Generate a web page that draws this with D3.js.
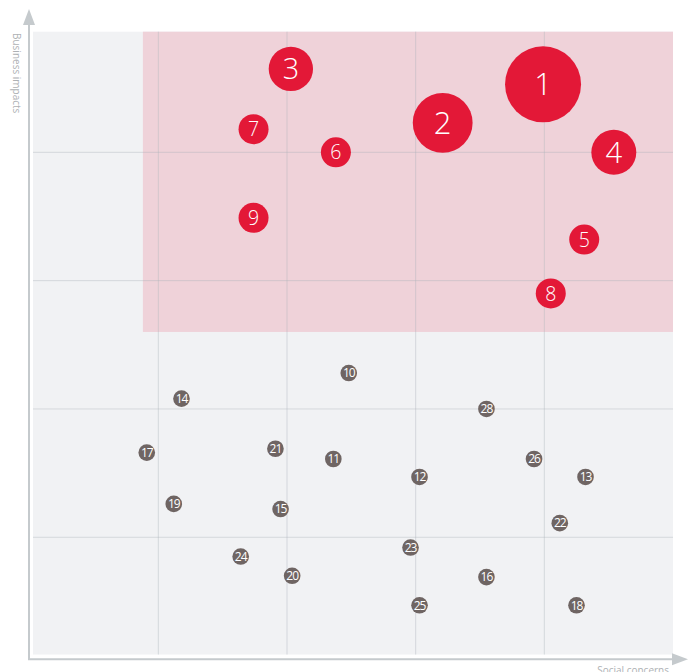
<!DOCTYPE html>
<html lang="en">
<head>
	<meta charset="utf-8">
	<script src="https://cdn.jsdelivr.net/npm/d3@7"></script>
	<style>
	  body { margin: 0; background: #fff; }
	  svg text { font-family: "Open Sans", "Lato", sans-serif; }
	</style>
</head>
<body>
<div id="chart"></div>

<script type="text/javascript">
    "use strict";

    // issue ids, social concerns (x), business impacts (y), weight (bubble size)
    const ids     = [1, 2, 3, 4, 5, 6, 7, 8, 9,
                     10, 11, 12, 13, 14, 15, 16, 17, 18, 19, 20, 21, 22, 23, 24, 25, 26, 28];
    const social  = [3.99, 3.21, 2.03, 4.54, 4.31, 2.38, 1.74, 4.05, 1.74,
                     2.48, 2.36, 3.03, 4.32, 1.18, 1.95, 3.55, 0.91, 4.25, 1.12, 2.04, 1.91, 4.12, 2.96, 1.64, 3.03, 3.92, 3.55];
    const business = [4.53, 4.23, 4.65, 4.0, 3.32, 4.0, 4.18, 2.9, 3.49,
                      2.28, 1.61, 1.47, 1.47, 2.08, 1.22, 0.69, 1.66, 0.47, 1.26, 0.7, 1.69, 1.11, 0.92, 0.85, 0.47, 1.61, 2.0];
    const weight  = [10, 6.2, 3.4, 3.5, 1.56, 1.56, 1.56, 1.56, 1.56,
                     0.48, 0.48, 0.48, 0.48, 0.48, 0.48, 0.48, 0.48, 0.48, 0.48, 0.48, 0.48, 0.48, 0.48, 0.48, 0.48, 0.48, 0.48];
    const material = [true, true, true, true, true, true, true, true, true,
                      false, false, false, false, false, false, false, false, false, false, false, false, false, false, false, false, false, false];

    const gridTicks = [1, 2, 3, 4];
    // highlighted "material" zone, in data units
    const zoneX = [0.88, 5];
    const zoneY = [2.6, 4.94];
    const plotX = [0.026, 5];
    const plotY = [0.086, 4.94];

    const width = 692, height = 672;

    const x = d3.scaleLinear().domain([0, 5]).range([29.67, 673]);
    const y = d3.scaleLinear().domain([0, 5]).range([665.6, 24]);
    const r = d3.scaleSqrt().domain([0, 10]).range([0, 38]);

    const svg = d3.select("#chart").append("svg")
      .attr("width", width).attr("height", height);

    // plot background
    svg.append("rect")
      .attr("x", x(plotX[0])).attr("y", y(plotY[1]))
      .attr("width", x(plotX[1]) - x(plotX[0]))
      .attr("height", y(plotY[0]) - y(plotY[1]))
      .attr("fill", "#f1f2f4");

    svg.append("rect")
      .attr("x", x(zoneX[0])).attr("y", y(zoneY[1]))
      .attr("width", x(zoneX[1]) - x(zoneX[0]))
      .attr("height", y(zoneY[0]) - y(zoneY[1]))
      .attr("fill", "#efd2d9");

    // grid
    const grid = svg.append("g").attr("stroke", "#a9b2b8").attr("stroke-opacity", 0.4);
    grid.selectAll(".vx").data(gridTicks).join("line")
      .attr("x1", d => x(d)).attr("x2", d => x(d))
      .attr("y1", y(plotY[1])).attr("y2", y(plotY[0]));
    grid.selectAll(".hy").data(gridTicks).join("line")
      .attr("y1", d => y(d)).attr("y2", d => y(d))
      .attr("x1", x(plotX[0])).attr("x2", x(plotX[1]));

    // axes with arrows
    const axisCol = "#c5cacd";
    svg.append("line").attr("x1", 29).attr("x2", 29).attr("y1", 22).attr("y2", 660)
      .attr("stroke", axisCol).attr("stroke-width", 2);
    svg.append("line").attr("x1", 28).attr("x2", 674).attr("y1", 659.3).attr("y2", 659.3)
      .attr("stroke", axisCol).attr("stroke-width", 2);
    svg.append("path").attr("d", "M29,9 L35,25 L23,25 Z").attr("fill", axisCol);
    svg.append("path").attr("d", "M688,659.3 L672,653.3 L672,665.3 Z").attr("fill", axisCol);

    svg.append("text")
      .attr("transform", "translate(13,33) rotate(90)")
      .attr("font-size", 10).attr("fill", "#aeb1b4")
      .text("Business impacts");
    svg.append("text")
      .attr("x", 669).attr("y", 673.5).attr("text-anchor", "end")
      .attr("font-size", 10).attr("fill", "#aeb1b4")
      .text("Social concerns");

    // bubbles
    const data = ids.map((id, i) => ({
      id: id, sx: social[i], by: business[i], w: weight[i], mat: material[i]
    }));

    const node = svg.append("g").selectAll("g").data(data).join("g")
      .attr("transform", d => `translate(${x(d.sx)},${y(d.by)})`);

    node.append("circle")
      .attr("r", d => r(d.w))
      .attr("fill", d => d.mat ? "#e31837" : "#6f6563");

    node.append("text")
      .attr("text-anchor", "middle")
      .attr("dy", "0.36em")
      .attr("fill", "#fff")
      .attr("font-weight", d => d.mat ? 300 : 400)
      .attr("font-size", d => d.mat ? Math.min(31, r(d.w) * 1.3) : 12)
      .attr("letter-spacing", d => d.mat ? 0 : -1)
      .text(d => d.id);

</script>
</body>
</html>
